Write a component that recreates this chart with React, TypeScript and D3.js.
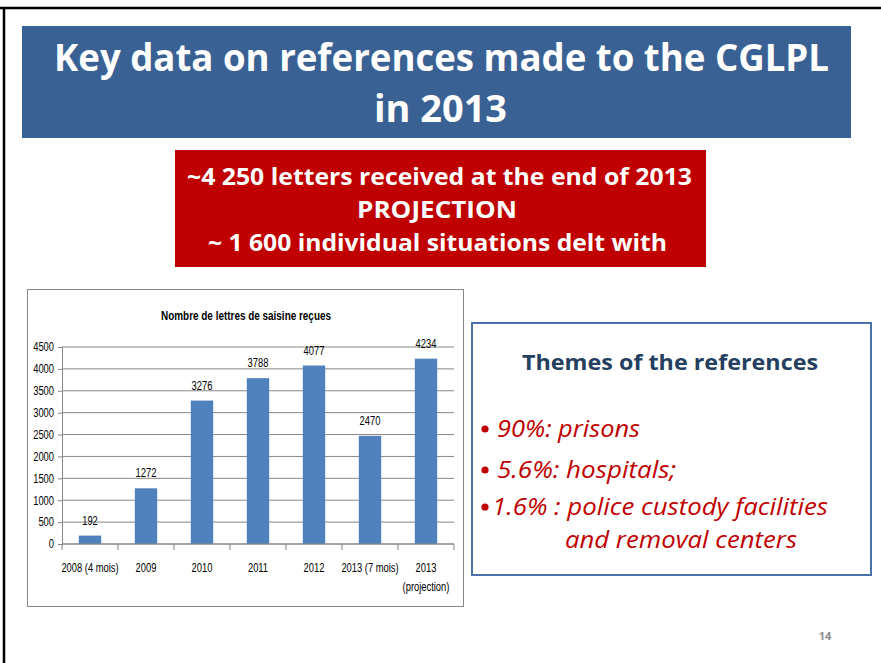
import React, { useEffect, useRef } from 'react';
import { select, scaleBand, scaleLinear, axisLeft } from 'd3';

// chart data
const categories = ['2008 (4 mois)', '2009', '2010', '2011', '2012', '2013 (7 mois)', '2013|(projection)'];
const letters = [192, 1272, 3276, 3788, 4077, 2470, 4234];
const yTicks = [0, 500, 1000, 1500, 2000, 2500, 3000, 3500, 4000, 4500];

const titleLines = ['Key data on references made to the CGLPL', 'in 2013'];
const redLines = ['~4 250 letters received at the end of 2013', 'PROJECTION', '~ 1 600 individual situations delt with'];
const themeItems = ['90%: prisons', '5.6%: hospitals;', '1.6% : police custody facilities', 'and removal centers'];

const narrow = '"Liberation Sans", Arial, sans-serif';
const sans = '"Open Sans", "Noto Sans", sans-serif';

// squeeze a text node so it looks like a condensed face
const squeeze = (node: SVGTextContentElement, k: number) => {
  const len = node.getComputedTextLength();
  node.setAttribute('textLength', String(len * k));
  node.setAttribute('lengthAdjust', 'spacingAndGlyphs');
};

const App = () => {
  const svgRef = useRef<SVGSVGElement>(null);

  useEffect(() => {
    const svg = select(svgRef.current);
    const x = scaleBand<string>().domain(categories).range([62, 454]).paddingInner(0.6).paddingOuter(0.3);
    const y = scaleLinear().domain([0, 4500]).range([544, 347]);

    const plot = svg.select('.plot');
    plot.selectAll('*').remove();

    // gridlines
    plot
      .selectAll('.grid')
      .data(yTicks)
      .join('line')
      .attr('class', 'grid')
      .attr('x1', 62)
      .attr('x2', 454)
      .attr('y1', (d) => y(d))
      .attr('y2', (d) => y(d))
      .attr('stroke', '#868686')
      .attr('stroke-width', 1);

    // y axis
    const yAxis = axisLeft(y)
      .tickValues(yTicks)
      .tickFormat((d) => String(d))
      .tickSize(4)
      .tickPadding(4);
    const yg = plot.append('g').attr('transform', 'translate(62,0)').call(yAxis);
    yg.select('.domain').attr('stroke', '#868686');
    yg.selectAll('.tick line').attr('stroke', '#868686');
    yg.selectAll('.tick text')
      .attr('class', 'sq')
      .attr('font-family', narrow)
      .attr('font-size', 12)
      .attr('fill', '#000');

    // x axis ticks at band boundaries
    const step = x.step();
    const bounds = categories.map((_, i) => 62 + i * step).concat([454]);
    plot
      .selectAll('.xtick')
      .data(bounds)
      .join('line')
      .attr('class', 'xtick')
      .attr('x1', (d) => d)
      .attr('x2', (d) => d)
      .attr('y1', 544)
      .attr('y2', 550)
      .attr('stroke', '#868686');

    // bars
    plot
      .selectAll('.bar')
      .data(letters)
      .join('rect')
      .attr('class', 'bar')
      .attr('x', (_, i) => x(categories[i]) as number)
      .attr('width', x.bandwidth())
      .attr('y', (d) => y(d))
      .attr('height', (d) => 544 - y(d))
      .attr('fill', '#4F81BD');

    // value labels
    plot
      .selectAll('.val')
      .data(letters)
      .join('text')
      .attr('class', 'val sq')
      .attr('x', (_, i) => (x(categories[i]) as number) + x.bandwidth() / 2)
      .attr('y', (d) => y(d) - 11)
      .attr('text-anchor', 'middle')
      .attr('font-family', narrow)
      .attr('font-size', 12)
      .text((d) => d);

    // x labels
    const xl = plot
      .selectAll('.xl')
      .data(categories)
      .join('text')
      .attr('class', 'xl')
      .attr('text-anchor', 'middle')
      .attr('font-family', narrow)
      .attr('font-size', 12);
    xl.selectAll('tspan')
      .data((d) => d.split('|').map((t, j) => ({ t, j, c: d })))
      .join('tspan')
      .attr('class', 'sq')
      .attr('x', (d) => (x(d.c) as number) + x.bandwidth() / 2)
      .attr('y', (d) => 572 + d.j * 19)
      .text((d) => d.t);

    // axis line over bars
    plot.append('line').attr('x1', 62).attr('x2', 454).attr('y1', 544).attr('y2', 544).attr('stroke', '#868686');

    plot.selectAll<SVGTextContentElement, unknown>('.sq').each(function () {
      squeeze(this, 0.78);
    });
  }, []);

  return (
    <div className='root'>
      <svg ref={svgRef} width={881} height={663} style={{ position: 'absolute', left: 0, top: 0, background: '#fff' }}>
        {/* slide frame */}
        <line x1={0} x2={881} y1={8} y2={8} stroke='#000' strokeWidth={2.5} />
        <line x1={4} x2={4} y1={7} y2={663} stroke='#000' strokeWidth={2.5} />

        {/* title banner */}
        <rect x={22} y={26} width={829} height={112} fill='#3A6194' />
        <text x={441.5} y={71} fill='#fff' fontFamily={sans} fontWeight='bold' fontSize={38} textAnchor='middle' textLength={775} lengthAdjust='spacingAndGlyphs'>
          {titleLines[0]}
        </text>
        <text x={440.5} y={122} fill='#fff' fontFamily={sans} fontWeight='bold' fontSize={38} textAnchor='middle' textLength={133} lengthAdjust='spacingAndGlyphs'>
          {titleLines[1]}
        </text>

        {/* red box */}
        <rect x={175} y={150} width={531} height={117} fill='#C00000' />
        <text x={439.5} y={185} fill='#fff' fontFamily={sans} fontWeight='bold' fontSize={24} textAnchor='middle' textLength={505} lengthAdjust='spacingAndGlyphs'>
          {redLines[0]}
        </text>
        <text x={437} y={218} fill='#fff' fontFamily={sans} fontWeight='bold' fontSize={24} textAnchor='middle' textLength={160} lengthAdjust='spacingAndGlyphs'>
          {redLines[1]}
        </text>
        <text x={437.5} y={251} fill='#fff' fontFamily={sans} fontWeight='bold' fontSize={24} textAnchor='middle' textLength={459} lengthAdjust='spacingAndGlyphs'>
          {redLines[2]}
        </text>

        {/* chart box */}
        <rect x={27.5} y={289.5} width={436} height={317} fill='#fff' stroke='#868686' strokeWidth={1} />
        <text x={246} y={320} fontFamily={narrow} fontWeight='bold' fontSize={13} textAnchor='middle' textLength={170} lengthAdjust='spacingAndGlyphs'>
          Nombre de lettres de saisine reçues
        </text>
        <g className='plot' />

        {/* themes box */}
        <rect x={472} y={323} width={399} height={252} fill='#fff' stroke='#4A72A8' strokeWidth={2} />
        <text x={670} y={370} fill='#243F60' fontFamily={sans} fontWeight='bold' fontSize={21} textAnchor='middle' textLength={296} lengthAdjust='spacingAndGlyphs'>
          Themes of the references
        </text>
        <g fill='#C00000' fontFamily={sans} fontStyle='italic' fontSize={24}>
          <circle cx={485} cy={429} r={3.6} />
          <text x={497} y={437} textLength={143} lengthAdjust='spacingAndGlyphs'>{themeItems[0]}</text>
          <circle cx={485} cy={470} r={3.6} />
          <text x={497} y={478} textLength={179} lengthAdjust='spacingAndGlyphs'>{themeItems[1]}</text>
          <circle cx={485} cy={507} r={3.6} />
          <text x={492} y={515} textLength={336} lengthAdjust='spacingAndGlyphs'>{themeItems[2]}</text>
          <text x={565} y={548} textLength={232} lengthAdjust='spacingAndGlyphs'>{themeItems[3]}</text>
        </g>

        {/* page number */}
        <text x={825} y={640} fill='#8C8C8C' fontFamily={sans} fontWeight='bold' fontSize={11} textAnchor='middle'>
          14
        </text>
      </svg>
    </div>
  );
};

export default App;
